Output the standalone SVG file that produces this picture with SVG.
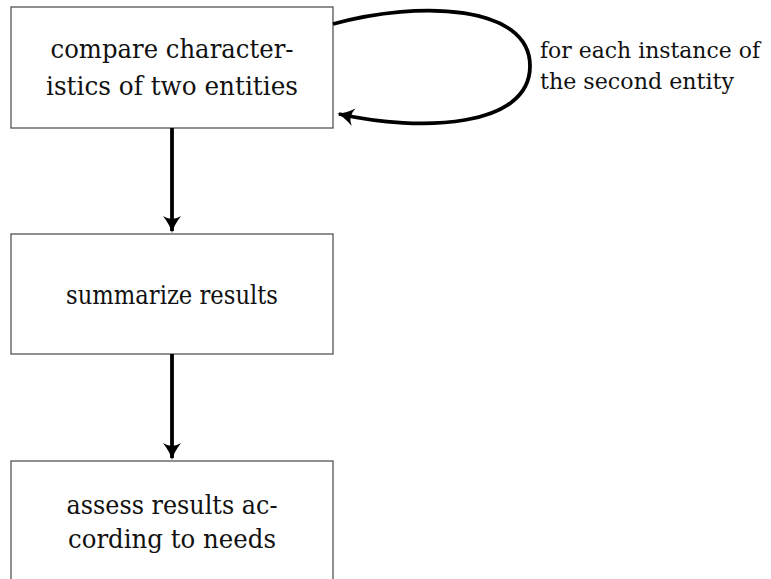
<svg xmlns="http://www.w3.org/2000/svg" width="771" height="579" viewBox="0 0 771 579">
<defs>
<style>
.box{fill:#fff;stroke:#555;stroke-width:1.3}
.t{font-family:'DejaVu Serif','Liberation Serif',serif;font-size:25.5px;fill:#111;text-anchor:middle}
.lbl{font-family:'DejaVu Serif','Liberation Serif',serif;font-size:23px;fill:#111}
.edge{fill:none;stroke:#000;stroke-width:3.8}
</style>
<marker id="ah" markerWidth="20" markerHeight="20" viewBox="-17 -10 20 20" refX="0" refY="0" orient="auto" markerUnits="userSpaceOnUse">
<path d="M-15,-9 Q-6,-2 2,0 Q-6,2 -15,9 Q-9,0 -15,-9 Z" fill="#000"/>
</marker>
</defs>
<g id="n1">
<rect class="box" x="11" y="7" width="322" height="121"/>
<text class="t" x="172" y="58" textLength="243" lengthAdjust="spacingAndGlyphs">compare character-</text>
<text class="t" x="172" y="95" textLength="252" lengthAdjust="spacingAndGlyphs">istics of two entities</text>
</g>
<g id="n2">
<rect class="box" x="11" y="234" width="322" height="120"/>
<text class="t" x="172" y="304" textLength="212" lengthAdjust="spacingAndGlyphs">summarize results</text>
</g>
<g id="n3">
<rect class="box" x="11" y="461" width="322" height="140"/>
<text class="t" x="172" y="514" textLength="211" lengthAdjust="spacingAndGlyphs">assess results ac-</text>
<text class="t" x="172" y="548" textLength="208" lengthAdjust="spacingAndGlyphs">cording to needs</text>
</g>
<g id="loop-label">
<text class="lbl" x="540" y="58" textLength="220" lengthAdjust="spacingAndGlyphs">for each instance of</text>
<text class="lbl" x="540" y="89" textLength="194" lengthAdjust="spacingAndGlyphs">the second entity</text>
</g>
<g id="connectors">
<path class="edge" d="M172,128 V231" marker-end="url(#ah)"/>
<path class="edge" d="M172,354 V458" marker-end="url(#ah)"/>
<path class="edge" d="M333,24 C420,0 530,5 530,66 C530,128 420,132 339,114" marker-end="url(#ah)"/>
</g>
</svg>
